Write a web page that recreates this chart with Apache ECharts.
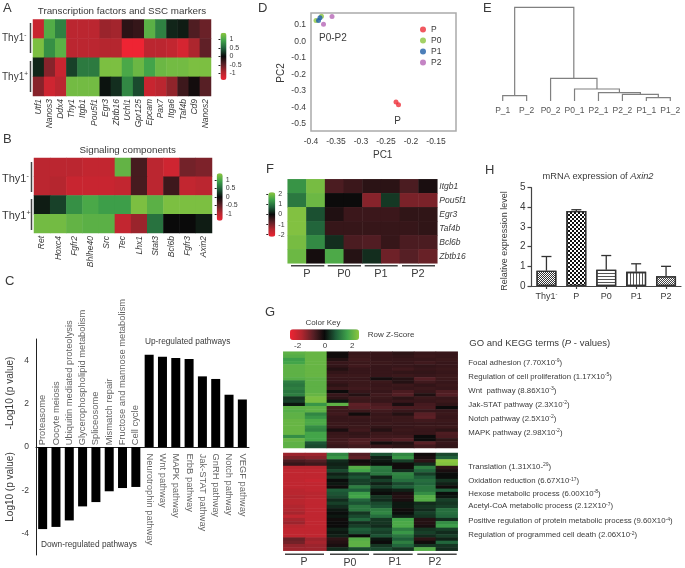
<!DOCTYPE html>
<html>
<head>
<meta charset="utf-8">
<title>Thy1 heatmaps and pathways</title>
<script src="https://cdn.jsdelivr.net/npm/echarts@6/dist/echarts.min.js"></script>
<style>
html, body { margin: 0; padding: 0; background: #fff; }
#main { width: 685px; height: 568px; }
</style>
</head>
<body>
<div id="main"></div>
<script>
// A
var aGenes = ['Utf1', 'Nanos3', 'Ddx4', 'Thy1', 'Itgb1', 'Pou5f1', 'Egr3', 'Zbtb16', 'Uchl1', 'Gpr125', 'Epcam', 'Pax7', 'Itga6', 'Taf4b', 'Cd9', 'Nanos2'];
var aRows = [
    [-1.1, 1.05, 0.7, -1, -1, -1, -0.8, -0.85, -0.2, -0.25, 1.1, 0.7, 0.15, 0.1, -0.4, -0.55],
    [1.3, 0.8, 1.1, -1, -1, -1, -0.95, -0.95, -1.4, -1.4, -1, -1, -1.05, -1.2, -0.9, -0.5],
    [0.15, -0.7, -1.1, 0.3, 0.65, 0.65, 1.3, 1.3, 1.0, 1.2, 0.95, 1.2, 1.25, 1.25, 1.3, 1.3],
    [-0.7, -1.15, -1, 1.25, 1.25, 1.25, 0.05, 0.2, 0.75, 0.35, -1.1, -1, -0.75, -0.3, -0.05, -0.45]
];
// B
var bGenes = ['Ret', 'Hoxc4', 'Fgfr2', 'Bhlhe40', 'Src', 'Tec', 'Lhx1', 'Stat3', 'Bcl6b', 'Fgfr3', 'Axin2'];
var bRows = [
    [-1, -1, -1, -1.05, -1.05, 1.15, -0.35, -1, -1.15, -0.6, -0.65],
    [-1, -0.95, -1.1, -1.1, -1.1, -1.05, -0.35, -1, -0.3, -1.05, -1],
    [0.1, 0.3, 0.8, 1.0, 0.9, 0.9, 1.3, 1.1, 1.3, 1.3, 1.3],
    [1.25, 1.25, 1.15, 1.1, 1.1, -1.05, -0.8, 0.6, 0, 0, 0.1]
];
// C
var downPathways = ['Proteasome', 'Oocyte meiosis', 'Ubiquitin mediated proteolysis', 'Glycerophospholipid metabolism', 'Spliceosome', 'Mismatch repair', 'Fructose and mannose metabolism', 'Cell cycle'];
var downValues = [-3.8, -3.7, -3.4, -2.75, -2.55, -2.05, -1.9, -1.85];
var upPathways = ['Neurotrophin pathway', 'Wnt pathway', 'MAPK pathway', 'ErbB pathway', 'Jak-STAT pathway', 'GnRH pathway', 'Notch pathway', 'VEGF pathway'];
var upValues = [4.27, 4.18, 4.12, 4.07, 3.27, 3.15, 2.42, 2.2];
// D
var pcaP = [[-0.23, -0.367], [-0.225, -0.383]];
var pcaP0 = [[-0.39, 0.127], [-0.379, 0.152]];
var pcaP1 = [[-0.385, 0.127], [-0.382, 0.143]];
var pcaP2 = [[-0.375, 0.104], [-0.358, 0.151]];
// E
var dendroLeaves = ['P_1', 'P_2', 'P0_2', 'P0_1', 'P2_1', 'P2_2', 'P1_1', 'P1_2'];
var dendroLeft = [0, 6, 5, 4, 3, 2, 0.5];
var dendroRight = [1, 7, 6.5, 5.75, 4.875, 3.9375, 2.97];
var dendroLeftBase = [0, 0, 0, 0, 0, 0, 5.3];
var dendroRightBase = [0, 0, 3.3, 6.7, 8.3, 12, 22.7];
var dendroTop = [5.3, 3.3, 6.7, 8.3, 12, 22.7, 93.7];
// F
var fGenes = ['Itgb1', 'Pou5f1', 'Egr3', 'Taf4b', 'Bcl6b', 'Zbtb16'];
var fRows = [
    [1.3, 2.0, -0.6, -0.45, -0.3, -0.3, -0.6, -0.15],
    [1.0, 1.9, -0.02, -0.02, -1.1, 0.4, -1.0, -1.0],
    [2.1, 0.6, -0.2, -0.45, -0.45, -0.45, -0.35, -0.35],
    [2.1, 0.8, -0.4, -0.4, -0.4, -0.4, -0.4, -0.35],
    [2.0, 1.2, 0.3, -0.6, -0.65, -0.4, -0.6, -0.6],
    [1.9, -0.1, 1.6, -0.25, 0.3, -0.9, -0.7, -0.85]
];
// G
var gUpperRows = [
    [2.0, 2.1, -0.1, -0.5, -0.5, -0.4, -0.5, -0.5],
    [1.9, 2.1, -0.1, -0.55, -0.5, -0.45, -0.55, -0.5],
    [1.6, 2.1, -0.3, -0.6, -0.5, -0.5, -0.5, -0.55],
    [1.7, 2.1, -0.5, -0.55, -0.55, -0.5, -0.6, -0.5],
    [2.0, 2.1, -0.45, -0.6, -0.5, -0.5, -0.45, -0.5],
    [2.0, 2.1, -0.3, -0.5, -0.5, -0.6, -0.5, -0.55],
    [2.0, 2.1, -0.45, -0.5, -0.5, -0.45, -0.45, -0.5],
    [2.0, 2.1, -0.55, -0.55, -0.5, -0.55, -0.5, -0.55],
    [1.9, 2.0, -0.5, -0.5, -0.15, -0.3, -0.8, -0.55],
    [1.2, 2.0, -0.5, -0.55, -0.55, -0.3, -0.6, -0.5],
    [1.1, 2.0, -0.4, -0.55, -0.5, -0.55, -0.45, -0.55],
    [1.2, 2.0, -0.55, -0.6, -0.55, -0.5, -0.55, -0.5],
    [1.1, 2.0, -0.05, -0.5, -0.5, -0.7, -0.5, -0.75],
    [1.2, 2.1, -0.5, -0.3, -0.6, -0.8, -0.25, -0.8],
    [0.4, 2.3, -0.4, -0.6, -0.55, -0.4, -0.55, -0.5],
    [0.5, 2.3, 0.1, -0.55, -0.5, -0.5, -0.5, -0.55],
    [0.1, 1.5, 2.0, -0.9, -0.7, -0.2, -0.65, -0.45],
    [2.0, 2.0, -0.6, -0.85, -0.8, -0.7, -0.7, -0.05],
    [1.9, 2.0, -0.55, -0.55, -0.6, -0.5, -0.5, -0.5],
    [2.0, 1.3, -0.6, -0.1, -0.5, -0.3, -0.85, -0.55],
    [2.0, 1.5, -0.5, -0.55, -0.55, -0.55, -0.9, -0.5],
    [2.1, 1.8, -0.5, -0.5, -0.5, -0.55, -0.6, -0.55],
    [2.1, 1.8, -0.55, -0.5, -0.55, -0.5, -0.5, -0.5],
    [2.1, 1.4, -0.5, -0.55, -0.45, -0.5, -0.55, -0.55],
    [2.1, 1.3, -0.2, -0.6, -0.3, -0.55, -0.5, -0.4],
    [2.1, 1.7, -0.5, -0.45, -0.55, -0.5, -0.5, -0.75],
    [1.4, 1.7, -0.55, -0.5, -0.6, -0.6, -0.05, -0.7],
    [2.1, 1.7, -0.6, -0.75, -0.7, -0.8, -0.05, -0.4],
    [2.0, 0.7, -0.6, -0.75, -0.15, -0.3, -0.85, -0.5],
    [2.0, 0.6, -0.5, -0.6, -0.5, -0.4, -0.6, -0.45]
];
var gLowerRows = [
    [-1.5, -1.5, 1.3, -0.8, 0.7, 1.3, -0.1, 0.6],
    [-1.2, -1.3, 1.5, -0.9, 0.2, 1.5, -0.2, 0.8],
    [-0.7, -0.8, 0.3, -0.1, 0.1, 0.5, -0.4, 2.6],
    [-0.5, -0.6, 0.2, -0.2, 0, -0.1, 0.3, 2.4],
    [-1.8, -1.8, 0.3, 1.9, 1.2, -0.1, 1.2, -0.4],
    [-1.9, -1.9, 0.6, 1.7, 1.1, 0.3, 0.9, -0.2],
    [-1.9, -1.9, 0.2, 0.5, 1.1, 1.3, 0.5, 0],
    [-1.9, -1.9, 0.4, 0.7, 0.2, 1.2, 0.8, 0],
    [-1.9, -2, 0, 0.5, 0.5, 1.0, 1.0, 0.4],
    [-1.9, -1.9, 0.1, 0.5, 0.2, 0.6, 0.9, 0.2],
    [-1.9, -1.9, -0.1, 1.2, 0.5, 0.8, 1.1, -0.1],
    [-1.8, -1.9, 0.8, 0.8, 0.1, 0.2, 1.1, 0.8],
    [-1.8, -1.8, 0.7, 1.6, -0.05, -0.2, 1.4, 0],
    [-1.7, -1.8, 0.6, 1.7, 0.4, -0.3, 1.9, 0.1],
    [-1.8, -1.9, 0.3, 0.9, 0.3, -0.2, 1.9, 0.5],
    [-1.8, -1.9, 0.5, 0.7, 0.6, 0.1, 0.3, 0.4],
    [-1.7, -1.9, 0.3, 1.1, 0.7, 0.1, 0.4, 0.5],
    [-1.7, -1.9, 0.1, 1.1, 1.2, -0.1, 0.3, 1.0],
    [-1.6, -1.9, 0, 0.4, 1.3, 0, 0.5, 1.0],
    [-1.9, -1.9, 0.1, 0.6, 1.0, 0.2, 0.4, 0.9],
    [-1.6, -1.9, -0.1, 0.9, 0.4, 1.7, -0.3, 0.3],
    [-1.5, -1.9, -0.05, 0.3, 0.4, 1.8, -0.3, 1.4],
    [-1.8, -1.9, -0.05, 0.5, 0.3, 1.8, -0.2, 1.6],
    [-1.9, -1.9, 0.2, 0.8, 0.6, 1.2, 0.4, 0.5],
    [-1.9, -1.9, 0.1, 0.7, 0.5, 1.5, 0.5, 0.3],
    [-1.9, -1.9, 0.2, -0.05, 0.7, 1.1, 0.3, 0.5],
    [-1.0, -1.5, -0.4, 1.9, 0.1, 0.8, -0.4, 0.2],
    [-1.1, -1.6, -0.3, 2.0, -0.05, 1.2, -0.1, 0.9],
    [-1.4, -1.5, -0.2, 2.0, 0.4, 0.9, 0.4, 0.4],
    [-1.5, -1.5, 0.3, 0.6, 0.6, 0.4, 1.9, 0.3]
];
var goTerms = ['Focal adhesion (7.70X10{s|-9})', 'Regulation of cell proliferation (1.17X10{s|-5})', 'Wnt  pathway (8.86X10{s|-3})', 'Jak-STAT pathway (2.3X10{s|-2})', 'Notch pathway (2.5X10{s|-2})', 'MAPK pathway (2.98X10{s|-2})'];
var goTermsLower = ['Translation (1.31X10-{s|29})', 'Oxidation reduction (6.67X10{s|-17})', 'Hexose metabolic process (6.00X10{s|-8})', 'Acetyl-CoA metabolic process (2.12X10{s|-7})', 'Positive regulation of protein metabolic process (9.60X10{s|-4})', 'Regulation of programmed cell death (2.06X10{s|-2})'];
// H
var hCategories = ['Thy1-', 'P', 'P0', 'P1', 'P2'];
var hMeans = [0.78, 3.82, 0.83, 0.72, 0.5];
var hErrorTops = [1.5, 3.88, 1.55, 1.13, 1.0];

var FONT = '"Liberation Sans", Arial, sans-serif';
var TEXT = '#3a3a3a';
var heatColors = ['#ee2433', '#b3262f', '#5a2026', '#0a0a0a', '#1f5f3a', '#3fa34a', '#8cc63f'];

var chart = echarts.init(document.getElementById('main'));

var grids = [], xAxes = [], yAxes = [], series = [], graphics = [], visualMaps = [];

function range(n) {
    var out = [];
    for (var i = 0; i < n; i++) out.push(i);
    return out;
}

function addGrid(box, x, y) {
    grids.push({left: box[0], top: box[1], width: box[2], height: box[3], containLabel: false, show: box[4] || false, borderColor: '#aaa', borderWidth: 1.5});
    x.gridIndex = y.gridIndex = grids.length - 1;
    xAxes.push(x);
    yAxes.push(y);
    return grids.length - 1;
}

function hidden(axis) {
    axis.axisLine = {show: false};
    axis.axisTick = {show: false};
    axis.axisLabel = {show: false};
    axis.splitLine = {show: false};
    return axis;
}

function heatData(rows) {
    var out = [];
    rows.forEach(function (row, r) {
        row.forEach(function (v, c) {
            out.push([c, r, v]);
        });
    });
    return out;
}

// 热图：行从上往下
function addHeat(rows, box, xLabels, yLabels) {
    var xAxis = hidden({type: 'category', data: xLabels || range(rows[0].length)});
    var yAxis = hidden({type: 'category', inverse: true, data: yLabels || range(rows.length)});
    if (xLabels) {
        xAxis.axisLabel = {show: true, interval: 0, rotate: 90, margin: 3, fontFamily: FONT, fontStyle: 'italic', fontSize: 8.5, color: TEXT};
    }
    if (yLabels) {
        yAxis.position = 'right';
        yAxis.axisLabel = {show: true, interval: 0, margin: 2, fontFamily: FONT, fontStyle: 'italic', fontSize: 8.5, color: TEXT};
    }
    var g = addGrid(box, xAxis, yAxis);
    series.push({type: 'heatmap', xAxisIndex: g, yAxisIndex: g, data: heatData(rows), emphasis: {disabled: true}, itemStyle: {borderWidth: 0}});
    return series.length - 1;
}

// 色标 + 刻度
function addColorBar(seriesIndex, box, min, max, ticks, fontSize) {
    visualMaps.push({
        type: 'continuous', seriesIndex: seriesIndex, dimension: 2, min: min, max: max,
        left: box[0], top: box[1], itemWidth: box[2], itemHeight: box[3], padding: 0,
        calculable: false, realtime: false, hoverLink: false, text: null, showLabel: false,
        inRange: {color: heatColors}, textStyle: {fontSize: 1, color: 'rgba(0,0,0,0)'}
    });
    addGrid(box, hidden({type: 'value', min: 0, max: 1}), {
        type: 'value', position: 'right', min: min, max: max,
        axisLine: {show: false},
        splitLine: {show: false},
        axisTick: {show: true, inside: true, length: 2, customValues: ticks, lineStyle: {color: '#222'}},
        axisLabel: {show: true, customValues: ticks, margin: 3, fontFamily: FONT, fontSize: fontSize, color: TEXT}
    });
}

function txt(x, y, text, o) {
    o = o || {};
    graphics.push({
        type: 'text', x: x, y: y, rotation: o.rotation || 0, silent: true,
        style: {
            text: text, fontFamily: FONT, fontSize: o.size || 10, fill: o.color || TEXT,
            align: o.align || 'left', verticalAlign: 'middle', rich: o.rich
        }
    });
}

function rule(x1, y1, x2, y2, width, color) {
    graphics.push({type: 'line', silent: true, shape: {x1: x1, y1: y1, x2: x2, y2: y2}, style: {stroke: color || '#444', lineWidth: width || 1.5}});
}

function supRich(size) {
    return {
        s: {fontFamily: FONT, fontSize: size * 0.65, fill: TEXT, color: TEXT, verticalAlign: 'top', lineHeight: size * 1.2},
        i: {fontFamily: FONT, fontSize: size, fontStyle: 'italic', color: TEXT},
        n: {fontFamily: FONT, fontSize: size, color: TEXT, lineHeight: size * 1.2}
    };
}

// 面板字母
[['A', 3, 8], ['B', 3, 139], ['C', 5, 281], ['D', 258, 8], ['E', 483, 8], ['F', 266, 169], ['G', 265, 312], ['H', 485, 170]].forEach(function (p) {
    txt(p[1], p[2], p[0], {size: 13});
});

// ---- A ----
var aIdx = addHeat(aRows, [33, 19.5, 178, 76.5], aGenes);
addColorBar(aIdx, [220.5, 32.7, 6, 47.3], -1.4, 1.4, [-1, -0.5, 0, 0.5, 1], 7);
txt(122, 11.5, 'Transcription factors and SSC markers', {size: 9.8, align: 'center'});
txt(2, 38, '{n|Thy1}{s|-}', {rich: supRich(10)});
txt(2, 77, '{n|Thy1}{s|+}', {rich: supRich(10)});
rule(30.5, 23, 30.5, 53);
rule(30.5, 61, 30.5, 92);

// ---- B ----
var bIdx = addHeat(bRows, [34, 158, 178, 75], bGenes);
addColorBar(bIdx, [216.7, 173.3, 6, 47.4], -1.4, 1.4, [-1, -0.5, 0, 0.5, 1], 7);
txt(127.7, 150, 'Signaling components', {size: 9.8, align: 'center'});
txt(2, 179, '{n|Thy1}{s|-}', {rich: supRich(11)});
txt(2, 216, '{n|Thy1}{s|+}', {rich: supRich(11)});
rule(31.5, 162, 31.5, 192);
rule(31.5, 199, 31.5, 230);

// ---- C ----
var pathwayNames = downPathways.concat(upPathways);
var pathwayValues = downValues.concat(upValues);
var cIdx = addGrid([36, 339, 213, 216],
    {type: 'category', data: pathwayNames, axisLine: {onZero: true, lineStyle: {color: '#222', width: 1}}, axisTick: {show: false}, axisLabel: {show: false}},
    {type: 'value', min: -5, max: 5, splitLine: {show: false},
        axisLine: {show: true, lineStyle: {color: '#222', width: 1}}, axisTick: {show: false},
        axisLabel: {customValues: [-4, -2, 0, 2, 4], margin: 7, fontFamily: FONT, fontSize: 8.5, color: TEXT}});
series.push({type: 'bar', xAxisIndex: cIdx, yAxisIndex: cIdx, barWidth: 9, data: pathwayValues, itemStyle: {color: '#000'}, emphasis: {disabled: true}});
series.push({
    type: 'scatter', xAxisIndex: cIdx, yAxisIndex: cIdx, symbolSize: 0, emphasis: {disabled: true},
    data: downPathways.map(function (n) { return [n, 0.08]; }),
    label: {show: true, position: 'inside', rotate: 90, align: 'left', verticalAlign: 'middle', fontFamily: FONT, fontSize: 9.4, color: TEXT,
        formatter: function (p) { return p.name || p.value[0]; }}
});
series.push({
    type: 'scatter', xAxisIndex: cIdx, yAxisIndex: cIdx, symbolSize: 0, emphasis: {disabled: true},
    data: upPathways.map(function (n) { return [n, -0.3]; }),
    label: {show: true, position: 'inside', rotate: -90, align: 'left', verticalAlign: 'middle', fontFamily: FONT, fontSize: 9.4, color: TEXT,
        formatter: function (p) { return p.name || p.value[0]; }}
});
txt(10, 393, '-Log10 (p value)', {size: 10, rotation: Math.PI / 2, align: 'center'});
txt(10, 487, 'Log10 (p value)', {size: 10, rotation: Math.PI / 2, align: 'center'});
txt(145, 342, 'Up-regulated pathways', {size: 8.3});
txt(41, 545, 'Down-regulated pathways', {size: 8.3});

// ---- D ----
var dIdx = addGrid([311, 13, 145, 118, true],
    {type: 'value', min: -0.4, max: -0.11, interval: 0.05, splitLine: {show: false}, axisLine: {show: false}, axisTick: {show: false},
        axisLabel: {margin: 6, fontFamily: FONT, fontSize: 8.5, color: TEXT, showMaxLabel: false}},
    {type: 'value', min: -0.542, max: 0.172, splitLine: {show: false}, axisLine: {show: false}, axisTick: {show: false},
        axisLabel: {customValues: [-0.5, -0.4, -0.3, -0.2, -0.1, 0, 0.1], margin: 5, fontFamily: FONT, fontSize: 8.5, color: TEXT,
            formatter: function (v) { return v.toFixed(1); }}});
[['P', pcaP, '#ed2e38'], ['P0', pcaP0, '#8cc63f'], ['P1', pcaP1, '#1f5fa8'], ['P2', pcaP2, '#b565b5']].forEach(function (s) {
    series.push({type: 'scatter', name: s[0], xAxisIndex: dIdx, yAxisIndex: dIdx, data: s[1], symbolSize: 5, itemStyle: {color: s[2]}, emphasis: {disabled: true}});
});
txt(281.7, 73, 'PC2', {size: 10, rotation: Math.PI / 2, align: 'center'});
txt(382.7, 155.7, 'PC1', {size: 10, align: 'center'});
txt(319, 38, 'P0-P2', {size: 10});
txt(397.7, 121, 'P', {size: 10, align: 'center'});

// ---- E ----
var eIdx = addGrid([502.7, 7.3, 167.6, 93.7], {
    type: 'value', min: 0, max: 7, interval: 1, splitLine: {show: false}, axisLine: {show: false}, axisTick: {show: false},
    axisLabel: {margin: 5, fontFamily: FONT, fontSize: 8.5, color: '#555', formatter: function (v) { return dendroLeaves[v]; }}
}, hidden({type: 'value', min: 0, max: 93.7}));
series.push({
    type: 'custom', xAxisIndex: eIdx, yAxisIndex: eIdx, silent: true, clip: false,
    data: dendroTop.map(function (t, i) { return [dendroLeft[i], dendroRight[i], dendroLeftBase[i], dendroRightBase[i], t]; }),
    renderItem: function (params, api) {
        var a = api.coord([api.value(0), api.value(2)]);
        var b = api.coord([api.value(0), api.value(4)]);
        var c = api.coord([api.value(1), api.value(4)]);
        var d = api.coord([api.value(1), api.value(3)]);
        return {type: 'polyline', shape: {points: [a, b, c, d]}, style: {stroke: '#808080', lineWidth: 1.2, fill: null}};
    }
});

// ---- F ----
var fIdx = addHeat(fRows, [287.7, 179.3, 149.6, 84], null, fGenes);
addColorBar(fIdx, [268.3, 192.3, 7, 44.4], -2.2, 2.2, [-2, -1, 0, 1, 2], 7);
[[291, 324.3], [327.7, 361], [364.7, 397.7], [402, 435]].forEach(function (b) {
    rule(b[0], 265.7, b[1], 265.7);
});
txt(307, 273.5, 'P', {size: 11, align: 'center'});
txt(344, 273.5, 'P0', {size: 11, align: 'center'});
txt(381, 273.5, 'P1', {size: 11, align: 'center'});
txt(418, 273.5, 'P2', {size: 11, align: 'center'});

// ---- G ----
var gUpIdx = addHeat(gUpperRows, [283.3, 351.7, 174.4, 96.3]);
var gLowIdx = addHeat(gLowerRows, [283.3, 453, 174.4, 97.7]);
visualMaps.push({
    type: 'continuous', seriesIndex: [gUpIdx, gLowIdx], dimension: 2, min: -2.56, max: 2.5, orient: 'horizontal',
    left: 290, top: 329.3, itemWidth: 10.7, itemHeight: 69, padding: 0, calculable: false, realtime: false, hoverLink: false,
    text: null, showLabel: false, inRange: {color: heatColors}, textStyle: {fontSize: 1, color: 'rgba(0,0,0,0)'}
});
addGrid([290, 329.3, 69, 10.7], {
    type: 'value', min: -2.56, max: 2.5, splitLine: {show: false}, axisLine: {show: false},
    axisTick: {show: true, inside: true, length: 2, customValues: [-2, -1, 0, 1, 2], lineStyle: {color: '#222'}},
    axisLabel: {customValues: [-2, 0, 2], margin: 2, fontFamily: FONT, fontSize: 8, color: TEXT}
}, hidden({type: 'value', min: 0, max: 1}));
txt(323, 323, 'Color Key', {size: 8, align: 'center'});
txt(367.7, 335, 'Row Z-Score', {size: 8});
[[285, 324], [330, 369], [373.3, 412.7], [417.3, 456.7]].forEach(function (b) {
    rule(b[0], 554.3, b[1], 554.3);
});
txt(304, 562, 'P', {size: 10.5, align: 'center'});
txt(350, 563, 'P0', {size: 10.5, align: 'center'});
txt(395, 562, 'P1', {size: 10.5, align: 'center'});
txt(435, 562, 'P2', {size: 10.5, align: 'center'});

// GO / KEGG
txt(469.3, 343, 'GO and KEGG terms ({i|P} - values)', {size: 9.5, rich: {i: {fontFamily: FONT, fontSize: 9.5, fontStyle: 'italic', color: TEXT}}});
var goUpperY = [362.7, 376.7, 390.7, 404.7, 418.7, 432.7];
var goLowerY = [466.7, 481.3, 493.7, 506.3, 521.3, 535.3];
goTerms.forEach(function (t, i) {
    txt(468.3, goUpperY[i], t, {size: 7.8, rich: supRich(7.8)});
});
goTermsLower.forEach(function (t, i) {
    txt(468.3, goLowerY[i], t, {size: 7.8, rich: supRich(7.8)});
});

// ---- H ----
var hPatterns = [
    {symbol: 'rect', symbolSize: 1, dashArrayX: [[1, 1], [0, 1, 1, 0]], dashArrayY: [1, 0], color: '#333'},
    {symbol: 'rect', symbolSize: 1, dashArrayX: [[2, 2], [0, 2, 2, 0]], dashArrayY: [2, 0], color: '#111'},
    {symbol: 'rect', symbolSize: 1, dashArrayX: [[1, 0]], dashArrayY: [1, 2], color: '#555'},
    {symbol: 'rect', symbolSize: 1, dashArrayX: [[1, 2]], dashArrayY: [1, 0], color: '#555'},
    {symbol: 'rect', symbolSize: 1, dashArrayX: [[1, 1], [0, 1, 1, 0]], dashArrayY: [1, 0], color: '#444'}
];
var hIdx = addGrid([531.5, 187.7, 149.5, 98.3],
    {type: 'category', data: hCategories, axisLine: {lineStyle: {color: '#444', width: 1.2}},
        axisTick: {show: true, alignWithLabel: true, length: 3, lineStyle: {color: '#444', width: 1.2}},
        axisLabel: {interval: 0, margin: 5, fontFamily: FONT, fontSize: 9, color: TEXT,
            formatter: function (v) { return v === 'Thy1-' ? '{n|Thy1}{s|-}' : '{n|' + v + '}'; }, rich: supRich(9)}},
    {type: 'value', min: 0, max: 5, interval: 1, splitLine: {show: false},
        axisLine: {show: true, lineStyle: {color: '#444', width: 1.2}},
        axisTick: {show: true, length: 4, lineStyle: {color: '#444', width: 1.2}},
        axisLabel: {margin: 6, fontFamily: FONT, fontSize: 10, color: TEXT}});
series.push({
    type: 'bar', xAxisIndex: hIdx, yAxisIndex: hIdx, barWidth: 20, emphasis: {disabled: true},
    data: hMeans.map(function (v, i) {
        return {value: v, itemStyle: {color: '#fff', borderColor: '#333', borderWidth: 1.3, decal: hPatterns[i]}};
    })
});
series.push({
    type: 'custom', xAxisIndex: hIdx, yAxisIndex: hIdx, silent: true,
    data: hMeans.map(function (v, i) { return [i, v, hErrorTops[i]]; }),
    renderItem: function (params, api) {
        var low = api.coord([api.value(0), api.value(1)]);
        var high = api.coord([api.value(0), api.value(2)]);
        var st = {stroke: '#333', lineWidth: 1.3};
        return {type: 'group', children: [
            {type: 'line', shape: {x1: low[0], y1: low[1], x2: high[0], y2: high[1]}, style: st},
            {type: 'line', shape: {x1: high[0] - 5, y1: high[1], x2: high[0] + 5, y2: high[1]}, style: st}
        ]};
    }
});
txt(505, 241, 'Relative expression level', {size: 9, rotation: Math.PI / 2, align: 'center'});
txt(598, 176.7, 'mRNA expression of {i|Axin2}', {size: 9.3, align: 'center', rich: {i: {fontFamily: FONT, fontSize: 9.3, fontStyle: 'italic', color: TEXT}}});

chart.setOption({
    animation: false,
    backgroundColor: '#fff',
    textStyle: {fontFamily: FONT},
    tooltip: {show: false},
    legend: {
        data: ['P', 'P0', 'P1', 'P2'], orient: 'vertical', left: 420, top: 25, padding: 0,
        itemWidth: 6, itemHeight: 6, itemGap: 2, icon: 'circle', selectedMode: false,
        textStyle: {fontFamily: FONT, fontSize: 8.5, color: TEXT}
    },
    grid: grids,
    xAxis: xAxes,
    yAxis: yAxes,
    visualMap: visualMaps,
    series: series,
    graphic: graphics
});
</script>
</body>
</html>
